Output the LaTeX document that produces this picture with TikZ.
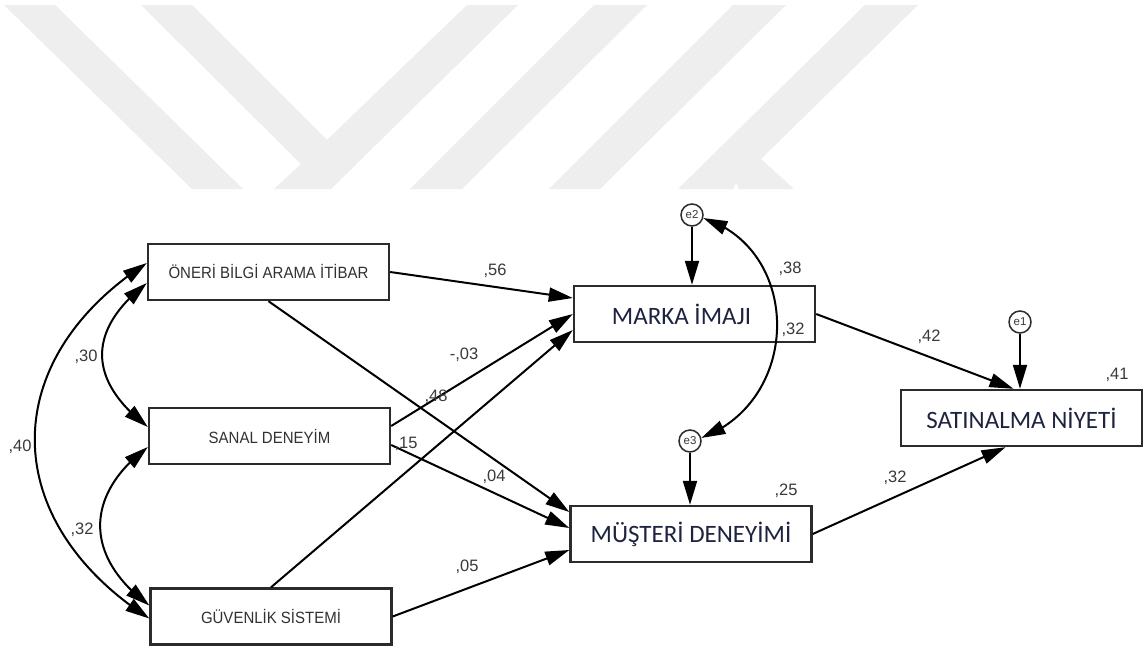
\documentclass[tikz,border=0pt]{standalone}
\usepackage{fontspec}
\setmainfont{Liberation Sans}
\newfontfamily\narrowsans[FakeStretch=0.92]{Liberation Sans}
\newfontfamily\calib{Carlito}
\usetikzlibrary{arrows.meta,bending}

\definecolor{wmark}{HTML}{EEEEEE}
\definecolor{boxline}{HTML}{2B2B2B}
\definecolor{lbl}{HTML}{3A3A3A}
\definecolor{navy}{HTML}{1E2440}

\begin{document}
\begin{tikzpicture}[x=1pt,y=-1pt,
  obs/.style={draw=boxline, line width=2.4pt, minimum width=241pt, minimum height=56pt, inner sep=0pt},
  exo/.style={obs, font=\narrowsans\fontsize{16.3}{16.3}\selectfont, text=lbl!85!black},
  endo/.style={obs, font=\calib\fontsize{25}{25}\selectfont, text=navy},
  err/.style={circle, draw=boxline, line width=1.5pt, minimum size=22pt, inner sep=0pt,
              font=\fontsize{11.5}{11.5}\selectfont, text=lbl},
  reg/.style={line width=2pt, -{Triangle[length=24pt,width=14pt]}},
  cov/.style={line width=2pt, {Triangle[length=24pt,width=14pt]}-{Triangle[length=24pt,width=14pt]}},
  coef/.style={font=\fontsize{16.5}{16.5}\selectfont, text=lbl, inner sep=0pt},
]
\useasboundingbox (0,0) rectangle (1147,648);
\fill[white] (0,0) rectangle (1147,648);

% light background emblem strokes
\fill[wmark] (4,5) -- (55,5) -- (243,189) -- (192,189) -- cycle;
\fill[wmark] (141,5) -- (192,5) -- (327,140) -- (467,5) -- (518,5) -- (331,189)
             -- (274,189) -- (301,164) -- cycle;
\fill[wmark] (594,5) -- (647,5) -- (462,189) -- (410,189) -- cycle;
\fill[wmark] (733,5) -- (786,5) -- (600,189) -- (549,189) -- cycle;
\fill[wmark] (865,5) -- (918,5) -- (761,159) -- (794,189) -- (739,189) -- (736,183)
             -- (733,189) -- (678,189) -- cycle;

% observed variables
\node[exo]  (oneri)   at (268.5,272)  {ÖNERİ BİLGİ ARAMA İTİBAR};
\node[exo]  (sanal)   at (269.5,436)  {SANAL DENEYİM};
\node[exo]  (guven)   at (271,616.5)  {GÜVENLİK SİSTEMİ};
\node[endo] (marka)   at (694.5,314)  {MARKA İMAJI\hspace*{26pt}};
\node[endo] (musteri) at (691,534)    {MÜŞTERİ DENEYİMİ};
\node[endo] (satin)   at (1021.5,418) {SATINALMA NİYETİ};

% error terms
\node[err] (e2) at (692,215)  {e2};
\node[err] (e3) at (690,441)  {e3};
\node[err] (e1) at (1020,322) {e1};

% regression paths
\draw[reg] (oneri.east) -- ([yshift=16pt]marka.west);
\draw[reg] ([yshift=10pt]sanal.east) -- (marka.west);
\draw[reg] (guven.north) -- ([yshift=-16pt]marka.west);
\draw[reg] (oneri.south) -- ([yshift=22pt]musteri.west);
\draw[reg] ([yshift=-9pt]sanal.east) -- ([yshift=6pt]musteri.west);
\draw[reg] (guven.east) -- ([yshift=-16pt]musteri.west);
\draw[reg] (marka.east) -- ([xshift=-8pt]satin.north);
\draw[reg] (musteri.east) -- ([xshift=-16pt]satin.south);
\draw[reg] (e2.south) -- (e2 |- marka.north);
\draw[reg] (e3.south) -- (e3 |- musteri.north);
\draw[reg] (e1.south) -- (e1 |- satin.north);

% covariances
\draw[cov] ([yshift=9pt]oneri.west) .. controls (-3,360) and (-3,520) .. ([yshift=-2pt]guven.west);
\draw[cov] ([yshift=-11pt]oneri.west) .. controls (87,330) and (87,380) .. ([yshift=9pt]sanal.west);
\draw[cov] ([yshift=-11pt]sanal.west) .. controls (84,495) and (84,557) .. ([yshift=11pt]guven.west);
\draw[cov] (e2.-15) .. controls (802,250) and (802,400) .. (e3.15);

% estimates
\node[coef] (c56)  at (495,271)  {,56};
\node[coef] (c03)  at (464,355)  {-,03};
\node[coef] (c48)  at (436,397)  {,48};
\node[coef] (c15)  at (406,444)  {,15};
\node[coef] (c04)  at (494,477)  {,04};
\node[coef] (c05)  at (467,567)  {,05};
\node[coef] (c38)  at (790,269)  {,38};
\node[coef] (r32)  at (793,330)  {,32};
\node[coef] (r25)  at (786,491)  {,25};
\node[coef] (c42)  at (929,337)  {,42};
\node[coef] (r41)  at (1117,375) {,41};
\node[coef] (c32b) at (895,478)  {,32};
\node[coef] (c30)  at (86,357)   {,30};
\node[coef] (c40)  at (20,447)   {,40};
\node[coef] (c32a) at (82,530)   {,32};
\end{tikzpicture}
\end{document}
